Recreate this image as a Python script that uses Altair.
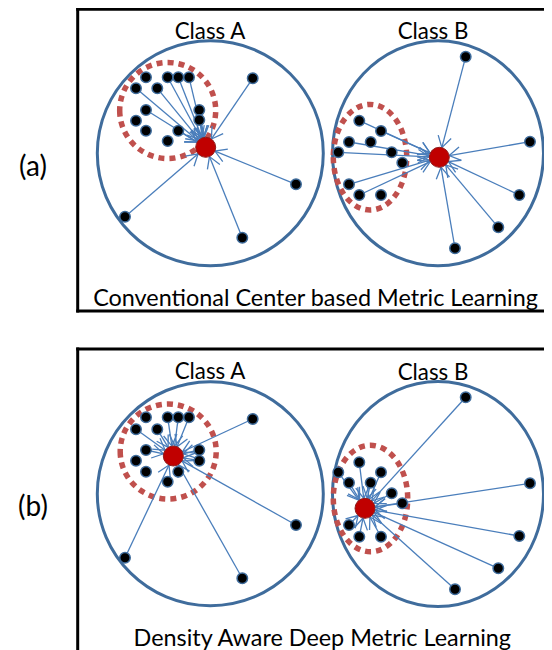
import altair as alt
import pandas as pd

# ---------------- data (screen pixel coordinates) -------------
panel_labels = ["(a)", "(b)"]
panel_label_x = [33, 33]
panel_label_y = [176, 516]
panel_titles = ["Conventional Center based Metric Learning", "Density Aware Deep Metric Learning"]
panel_title_x = [315.5, 322.3]
panel_title_y = [305.5, 645.7]

# frame lines of the two boxes (the right/bottom sides lie outside the picture)
frame_x = [77.7, 77.7, 77.7, 77.7, 77.7]
frame_x2 = [600, 77.7, 600, 600, 77.7]
frame_y = [9.3, 9.3, 311, 349, 349]
frame_y2 = [9.3, 311, 311, 349, 720]

class_names = ["Class A", "Class B", "Class A", "Class B"]
class_label_x = [210, 433, 210, 433]
class_label_y = [39.3, 39.3, 379.3, 380]
class_cx = [210.3, 438, 210.3, 438]
class_cy = [153.3, 153.3, 493.7, 494]
class_rx = [113, 105.5, 113, 105.5]
class_ry = [112.5, 112.5, 112, 112.5]

center_x = [205.7, 439.3, 173.3, 365]
center_y = [147.3, 157.3, 456, 508.3]

dense_cx = [167.7, 370, 168.2, 370.5]
dense_cy = [110.5, 157.2, 451.5, 498.5]
dense_rx = [48, 36.7, 48, 37.2]
dense_ry = [48, 52.8, 47.5, 53.2]

# dots per class: x, y, whether an arrow is drawn to the class center
aA_x = [146, 167.7, 178.3, 189, 136, 157.3, 146, 199.3, 136, 199.3, 146, 178.3, 167.7, 252.7, 296, 125, 242.3]
aA_y = [77.3, 77.3, 77.3, 77.3, 88.3, 88.3, 110, 110, 120.7, 120, 130.7, 130.7, 141, 78.3, 184.3, 216.7, 237.7]
aA_arrow = [0, 1, 1, 1, 1, 1, 1, 1, 0, 1, 0, 1, 0, 1, 1, 1, 1]

aB_x = [359.3, 381, 349, 370.7, 338.3, 391.7, 402.3, 349, 359.3, 381, 465.7, 530, 519.3, 498.3, 455]
aB_y = [120.7, 131, 142, 142, 152.3, 152.3, 162.7, 184.3, 195, 195, 56.7, 141.7, 195, 227.3, 248.3]
aB_arrow = [1, 1, 1, 0, 1, 0, 0, 1, 1, 0, 1, 1, 1, 1, 1]

bA_x = [146, 167.7, 178.3, 189, 136, 157.3, 146, 199.3, 136, 199.3, 146, 178.3, 167.7, 252.7, 296, 125, 242.3]
bA_y = [417.3, 417.3, 417.3, 417.3, 429.3, 429.3, 450, 450, 460.7, 460.7, 471.7, 471.7, 481.7, 419, 525, 557.7, 578.3]
bA_arrow = [0, 1, 1, 1, 1, 1, 1, 1, 0, 1, 0, 0, 0, 1, 1, 1, 1]

bB_x = [359.3, 381, 338.3, 349, 370.7, 391.7, 402.3, 349, 359.3, 381, 465.7, 530, 519.3, 498.3, 455]
bB_y = [462.3, 472.3, 472.3, 482.7, 482.7, 493.3, 503.3, 525, 536.7, 536.7, 397.3, 483.3, 536, 568.3, 589.3]
bB_arrow = [1, 1, 1, 1, 1, 1, 1, 1, 1, 1, 1, 1, 1, 1, 1]

# ---------------- tables ----------------
FONT = "Lato"
W, H = 536, 642


def X(f):
    return alt.X(f, type="quantitative", scale=alt.Scale(domain=[8, 8 + W], nice=False, zero=False), axis=None)


def Y(f):
    return alt.Y(f, type="quantitative", scale=alt.Scale(domain=[8, 8 + H], nice=False, zero=False, reverse=True), axis=None)


def ellipse_path(k):
    k = round(k, 4)
    return "M {a} 0 A {b} 1 0 1 0 {b} 0 A {b} 1 0 1 0 {a} 0 Z".format(a=-k, b=k)


frames = pd.DataFrame({"x": frame_x, "x2": frame_x2, "y": frame_y, "y2": frame_y2})
plabels = pd.DataFrame({"x": panel_label_x, "y": panel_label_y, "t": panel_labels})
ptitles = pd.DataFrame({"x": panel_title_x, "y": panel_title_y, "t": panel_titles})
classes = pd.DataFrame({"x": class_cx, "y": class_cy, "rx": class_rx, "ry": class_ry,
                        "lx": class_label_x, "ly": class_label_y, "t": class_names})
classes["shp"] = [ellipse_path(rx / ry) for rx, ry in zip(class_rx, class_ry)]
centers = pd.DataFrame({"x": center_x, "y": center_y})
dense = pd.DataFrame({"x": dense_cx, "y": dense_cy, "rx": dense_rx, "ry": dense_ry})
dense["shp"] = [ellipse_path(rx / ry) for rx, ry in zip(dense_rx, dense_ry)]

rows = []
for i, (xs, ys, ar) in enumerate([(aA_x, aA_y, aA_arrow), (aB_x, aB_y, aB_arrow),
                                  (bA_x, bA_y, bA_arrow), (bB_x, bB_y, bB_arrow)]):
    for x, y, a in zip(xs, ys, ar):
        rows.append({"x": x, "y": y, "arrow": a, "cx": center_x[i], "cy": center_y[i]})
dots = pd.DataFrame(rows)

CIRCLE_BLUE = "#3F6C9C"
ARROW_BLUE = "#4A7EBB"
DASH_RED = "#C0504D"

frame_layer = alt.Chart(frames).mark_rule(color="black", strokeWidth=3, strokeCap="square").encode(
    x=X("x"), x2="x2:Q", y=Y("y"), y2="y2:Q")

class_layer = alt.Chart(classes).mark_point(filled=False, opacity=1,
                                            stroke=CIRCLE_BLUE, strokeWidth=3).transform_calculate(
    sz="pow(2*datum.ry, 2)").encode(x=X("x"), y=Y("y"), size=alt.Size("sz:Q", scale=None),
                                    shape=alt.Shape("shp:N", scale=None))

dense_layer = alt.Chart(dense).mark_point(filled=False, opacity=1, stroke=DASH_RED,
                                          strokeWidth=5.5, strokeDash=[6, 5]).transform_calculate(
    sz="pow(2*datum.ry, 2)").encode(x=X("x"), y=Y("y"), size=alt.Size("sz:Q", scale=None),
                                    shape=alt.Shape("shp:N", scale=None))

arrow_base = alt.Chart(dots).transform_filter("datum.arrow == 1").transform_calculate(
    dx="datum.cx - datum.x", dy="datum.cy - datum.y").transform_calculate(
    len="sqrt(datum.dx*datum.dx + datum.dy*datum.dy)").transform_calculate(
    tx="datum.cx - 10*datum.dx/datum.len", ty="datum.cy - 10*datum.dy/datum.len",
    ang="(atan2(datum.dy, datum.dx)*180/PI + 360) % 360")

line_layer = arrow_base.mark_rule(color=ARROW_BLUE, strokeWidth=1.3).encode(
    x=X("x"), y=Y("y"), x2="tx:Q", y2="ty:Q")

head_layer = arrow_base.mark_point(shape="M -1 -0.6 L 0 0 L -1 0.6", filled=False, opacity=1,
                                   stroke=ARROW_BLUE, strokeWidth=1.3, size=500).encode(
    x=X("tx"), y=Y("ty"), angle=alt.Angle("ang:Q", scale=None))

dot_layer = alt.Chart(dots).mark_point(shape="circle", filled=True, opacity=1, fill="black",
                                       stroke=CIRCLE_BLUE, strokeWidth=1.5, size=110).encode(
    x=X("x"), y=Y("y"))

center_layer = alt.Chart(centers).mark_point(shape="circle", filled=True, opacity=1, fill="#C00000",
                                             stroke="#8E1A1A", strokeWidth=1, size=400).encode(
    x=X("x"), y=Y("y"))

class_text = alt.Chart(classes).mark_text(font=FONT, fontSize=22.3, align="center",
                                          baseline="alphabetic", color="black").encode(
    x=X("lx"), y=Y("ly"), text="t:N")

plabel_text = alt.Chart(plabels).mark_text(font=FONT, fontSize=28, align="center",
                                           baseline="alphabetic", color="black").encode(
    x=X("x"), y=Y("y"), text="t:N")

ptitle_text = alt.Chart(ptitles).mark_text(font=FONT, fontSize=23.4, align="center",
                                           baseline="alphabetic", color="black").encode(
    x=X("x"), y=Y("y"), text="t:N")

chart = alt.layer(frame_layer, class_layer, dense_layer, line_layer, head_layer, dot_layer,
                  center_layer, class_text, plabel_text, ptitle_text).properties(
    width=W, height=H, autosize=alt.AutoSizeParams(type="none"), padding=0,
    background="white").configure_view(stroke=None)

chart.save("out.html", embed_options={"renderer": "svg", "actions": False})
